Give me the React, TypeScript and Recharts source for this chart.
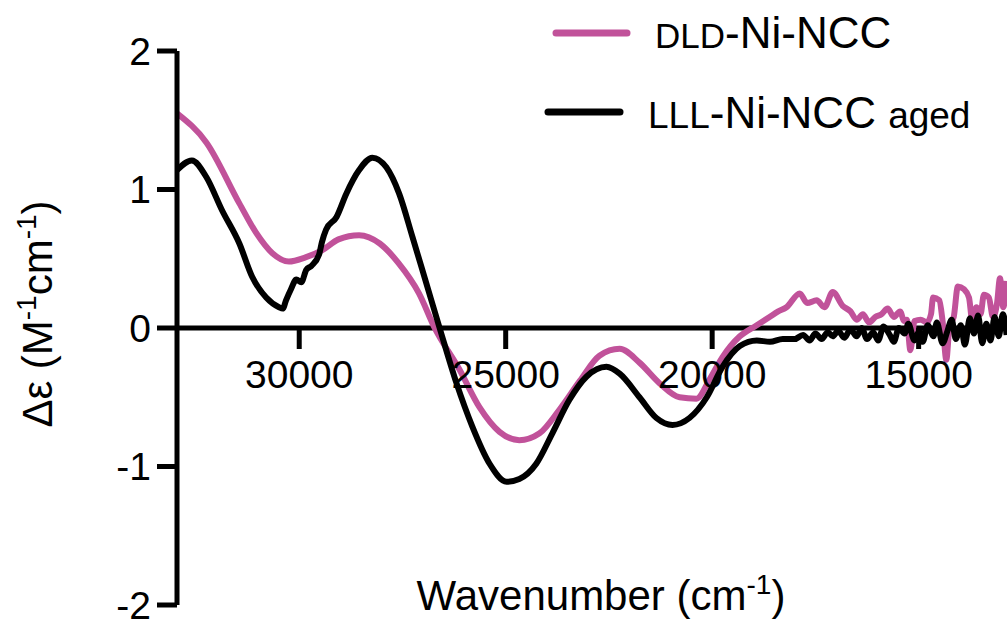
import { LineChart, Line, XAxis, YAxis, ReferenceLine, ReferenceDot, Legend } from 'recharts';

// DLD-Ni-NCC (pink)
const dldWavenumber = [32960, 32250, 31450, 31050, 30650, 30250, 29850, 29450, 29050, 28550, 28050, 27600, 27100, 26720, 26120, 25640, 25150, 24670, 24180, 23700, 23200, 22730, 22240, 21760, 21270, 20790, 20380, 20060, 19750, 19330, 18920, 18610, 18400, 18200, 17880, 17700, 17470, 17280, 17080, 16840, 16650, 16500, 16350, 16200, 16050, 15900, 15750, 15600, 15450, 15350, 15286, 15200, 15100, 14950, 14800, 14700, 14650, 14500, 14420, 14330, 14250, 14150, 14050, 13900, 13780, 13700, 13600, 13500, 13420, 13300, 13200, 13100, 13030, 12950, 12870];
const dldValue = [1.55, 1.34, 0.9, 0.69, 0.54, 0.48, 0.51, 0.56, 0.64, 0.67, 0.61, 0.47, 0.25, 0.0, -0.3, -0.57, -0.75, -0.81, -0.76, -0.59, -0.38, -0.2, -0.15, -0.25, -0.4, -0.5, -0.51, -0.37, -0.21, -0.06, 0.02, 0.08, 0.12, 0.15, 0.25, 0.18, 0.2, 0.15, 0.26, 0.16, 0.12, 0.06, 0.1, 0.04, 0.08, 0.1, 0.14, 0.08, 0.12, 0.05, 0.06, -0.16, 0.05, 0.06, 0.04, 0.1, 0.22, 0.2, 0.05, -0.23, 0.02, 0.08, 0.3, 0.28, 0.22, 0.05, 0.15, 0.1, 0.24, 0.22, 0.08, 0.18, 0.36, 0.15, 0.34];

// LLL-Ni-NCC aged (black)
const lllWavenumber = [32960, 32600, 32250, 31870, 31450, 31140, 30800, 30490, 30400, 30320, 30200, 30070, 29950, 29830, 29700, 29520, 29450, 29350, 29100, 28860, 28550, 28230, 27890, 27580, 27260, 26920, 26600, 26190, 25810, 25390, 24980, 24670, 24260, 23870, 23460, 23040, 22560, 22240, 21760, 21350, 20960, 20550, 20130, 19750, 19330, 18920, 18600, 18290, 18000, 17800, 17640, 17500, 17350, 17200, 17080, 16950, 16800, 16650, 16500, 16380, 16250, 16100, 15980, 15850, 15700, 15600, 15480, 15340, 15250, 15100, 14980, 14900, 14780, 14640, 14560, 14420, 14300, 14200, 14100, 13980, 13880, 13760, 13660, 13560, 13460, 13360, 13260, 13160, 13060, 12960, 12870];
const lllValue = [1.14, 1.21, 1.09, 0.85, 0.61, 0.37, 0.22, 0.15, 0.14, 0.2, 0.28, 0.35, 0.33, 0.42, 0.45, 0.53, 0.62, 0.71, 0.8, 0.97, 1.14, 1.23, 1.16, 0.97, 0.66, 0.32, 0.0, -0.4, -0.71, -0.98, -1.11, -1.09, -0.98, -0.76, -0.52, -0.35, -0.28, -0.33, -0.5, -0.65, -0.7, -0.65, -0.5, -0.28, -0.13, -0.09, -0.1, -0.08, -0.08, -0.05, -0.09, -0.04, -0.08, -0.03, -0.06, -0.02, -0.07, -0.01, -0.06, 0.0, -0.08, -0.03, -0.09, 0.01, -0.05, -0.1, 0.0, -0.04, 0.03, -0.09, -0.02, -0.1, 0.02, -0.06, 0.04, -0.11, -0.02, 0.06, -0.08, 0.02, -0.12, 0.07, -0.04, 0.09, -0.11, 0.03, -0.09, 0.08, -0.06, 0.1, -0.05];

const xTicks = [30000, 25000, 20000, 15000];
const yTicks = [-2, -1, 0, 1, 2];

const PINK = '#c1529a';
const FONT = '"Liberation Sans", Arial, sans-serif';

const dldData = dldWavenumber.map((w, i) => ({ w, v: dldValue[i] }));
const lllData = lllWavenumber.map((w, i) => ({ w, v: lllValue[i] }));

// x tick hanging under the zero line
const XTick = (props: any) => {
  const { cx, cy, label } = props;
  return (
    <g>
      <line x1={cx} y1={cy} x2={cx} y2={cy + 21} stroke="#000" strokeWidth={5} />
      <text x={cx} y={cy + 60} textAnchor="middle" fontSize={39} fill="#000">{label}</text>
    </g>
  );
};

const renderLegend = () => (
  <svg width={467} height={140}>
    <line x1={16} y1={33} x2={87} y2={33} stroke={PINK} strokeWidth={7} strokeLinecap="round" />
    <text x={115} y={48} fill="#000">
      <tspan fontSize={35}>DLD</tspan>
      <tspan fontSize={44}>-Ni-NCC</tspan>
    </text>
    <line x1={8} y1={112} x2={80} y2={112} stroke="#000" strokeWidth={7} strokeLinecap="round" />
    <text x={108} y={128} fill="#000">
      <tspan fontSize={37}>LLL</tspan>
      <tspan fontSize={44}>-Ni-NCC </tspan>
      <tspan fontSize={37}>aged</tspan>
    </text>
  </svg>
);

export default function App() {
  return (
    <div style={{ position: 'absolute', left: 0, top: 0, fontFamily: FONT }}>
      <LineChart width={1007} height={631} margin={{ top: 51, right: 0, left: 0, bottom: 0 }}>
        <XAxis
          type="number"
          dataKey="w"
          domain={[12860, 32960]}
          reversed
          allowDataOverflow
          axisLine={false}
          tickLine={false}
          tick={false}
          height={26}
          label={({ viewBox }: any) => (
            <text x={viewBox.x + viewBox.width / 2 + 9} y={viewBox.y + 5} textAnchor="middle" fontSize={42} fill="#000">
              Wavenumber (cm<tspan fontSize={28} dy={-16}>-1</tspan><tspan dy={16}>)</tspan>
            </text>
          )}
        />
        <YAxis
          type="number"
          domain={[-2, 2]}
          ticks={yTicks}
          width={177}
          axisLine={{ stroke: '#000', strokeWidth: 5 }}
          tickLine={{ stroke: '#000', strokeWidth: 5 }}
          tickSize={20}
          tickMargin={6}
          tick={{ fontSize: 39, fill: '#000' }}
          label={({ viewBox }: any) => {
            const x = 52;
            const y = viewBox.y + viewBox.height / 2 - 14;
            return (
              <text x={x} y={y} transform={`rotate(-90, ${x}, ${y})`} textAnchor="middle" fontSize={42} fill="#000">
                Δε (M<tspan fontSize={28} dy={-16}>-1</tspan><tspan dy={16}>cm</tspan><tspan fontSize={28} dy={-16}>-1</tspan><tspan dy={16}>)</tspan>
              </text>
            );
          }}
        />
        <ReferenceLine y={0} stroke="#000" strokeWidth={5} />
        {xTicks.map((t) => (
          <ReferenceDot key={t} x={t} y={0} r={0} shape={(p: any) => <XTick {...p} label={String(t)} />} />
        ))}
        <Line data={dldData} dataKey="v" name="DLD-Ni-NCC" type="monotone" stroke={PINK} strokeWidth={6} dot={false} isAnimationActive={false} />
        <Line data={lllData} dataKey="v" name="LLL-Ni-NCC aged" type="monotone" stroke="#000" strokeWidth={6} dot={false} isAnimationActive={false} />
        <Legend
          layout="vertical"
          align="center"
          verticalAlign="middle"
          content={renderLegend}
          wrapperStyle={{ top: 0, left: 540, width: 467, height: 140 }}
        />
      </LineChart>
    </div>
  );
}
